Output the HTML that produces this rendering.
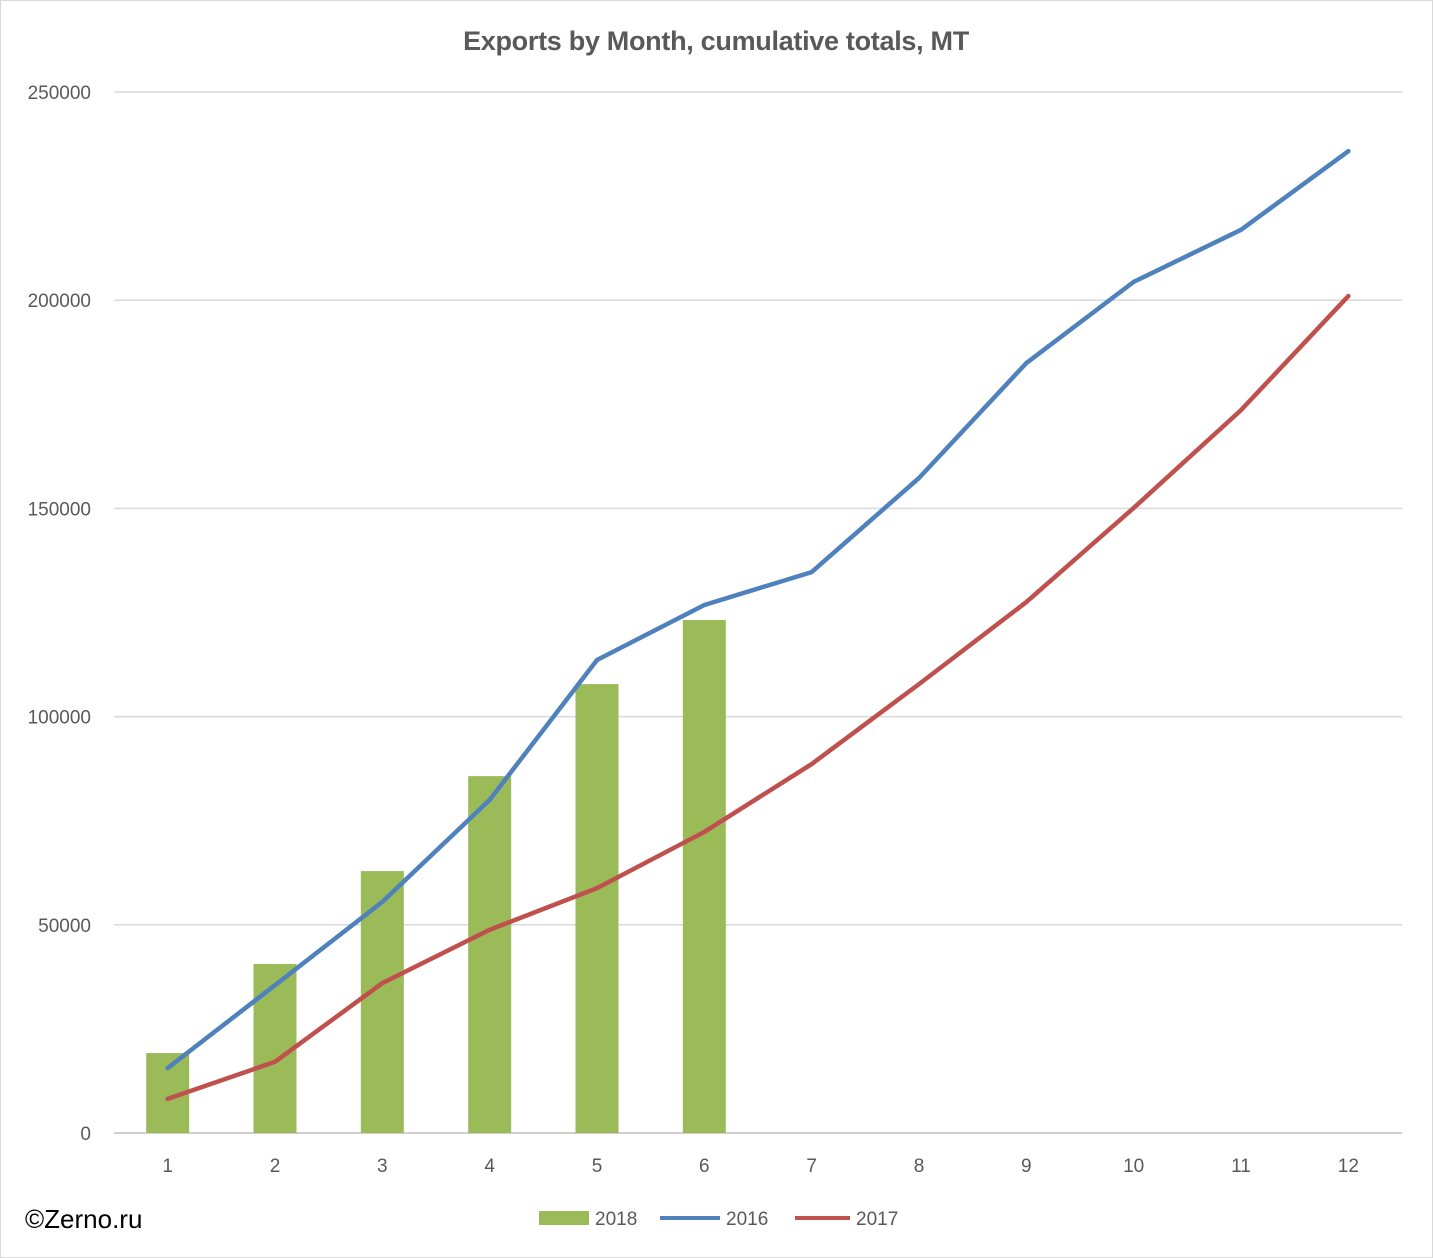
<!DOCTYPE html>
<html><head><meta charset="utf-8"><style>
body{margin:0;background:#fff}
svg{display:block;font-family:"Liberation Sans",sans-serif}
</style></head><body>
<svg id="chart" width="1433" height="1258">
<rect x="0.5" y="0.5" width="1432" height="1257" fill="#fff" stroke="#d9d9d9"/>
<text x="716" y="50" text-anchor="middle" font-size="27" font-weight="bold" fill="#595959" letter-spacing="-0.3">Exports by Month, cumulative totals, MT</text>
<g id="grid"></g><g id="bars"></g><g id="lines"></g><g id="axes"></g>
<text x="25" y="1228" font-size="26" fill="#000">©Zerno.ru</text>
<g>
<rect x="539" y="1211" width="50" height="14" fill="#9bbb59"/>
<text x="595" y="1225" font-size="19" fill="#595959">2018</text>
<line x1="660" y1="1218" x2="720" y2="1218" stroke="#4f81bd" stroke-width="4"/>
<text x="726" y="1225" font-size="19" fill="#595959">2016</text>
<line x1="795" y1="1218" x2="850" y2="1218" stroke="#c0504d" stroke-width="4"/>
<text x="856" y="1225" font-size="19" fill="#595959">2017</text>
</g>
</svg>
<script>
const categories=[1,2,3,4,5,6,7,8,9,10,11,12];
const s2018=[19200,40600,62900,85700,107800,123200];
const s2016=[15600,35500,55500,80000,113600,126800,134700,157300,184900,204400,216900,235800];
const s2017=[8200,17100,36000,48800,58800,72300,88600,107800,127500,150100,173600,201000];
const yTicks=[0,50000,100000,150000,200000,250000];
const NS="http://www.w3.org/2000/svg";
const x0=114,x1=1402,yb=1133,yt=92,ymax=250000;
const bw=(x1-x0)/categories.length;
const X=i=>x0+bw*(i+0.5);
const Y=v=>yb-(v/ymax)*(yb-yt);
function mk(tag,attrs,parent,text){const e=document.createElementNS(NS,tag);for(const k in attrs)e.setAttribute(k,attrs[k]);if(text!==undefined)e.textContent=text;document.getElementById(parent).appendChild(e);return e;}
yTicks.forEach(t=>{
 const l=mk('line',{x1:x0,x2:x1,y1:Y(t),y2:Y(t),stroke:t===0?'#bfbfbf':'#d9d9d9','stroke-width':1.5},'grid');
 
 
 const tx=mk('text',{x:91,y:Y(t)+7,'text-anchor':'end','font-size':19,fill:'#595959'},'axes',String(t));
 
 
});
categories.forEach((c,i)=>{
 const tx=mk('text',{x:X(i),y:1172,'text-anchor':'middle','font-size':19,fill:'#595959'},'axes',String(c));
 
 
});
s2018.forEach((v,i)=>{
 const r=mk('rect',{x:X(i)-21.5,y:Y(v),width:43,height:yb-Y(v),fill:'#9bbb59'},'bars');
 
 
});
function line(data,color,name){
 const p=mk('polyline',{points:data.map((v,i)=>X(i)+','+Y(v)).join(' '),fill:'none',stroke:color,'stroke-width':4.5,'stroke-linejoin':'round','stroke-linecap':'round'},'lines');
 
 
}
line(s2016,'#4f81bd','line-2016');
line(s2017,'#c0504d','line-2017');
</script>
</body></html>
